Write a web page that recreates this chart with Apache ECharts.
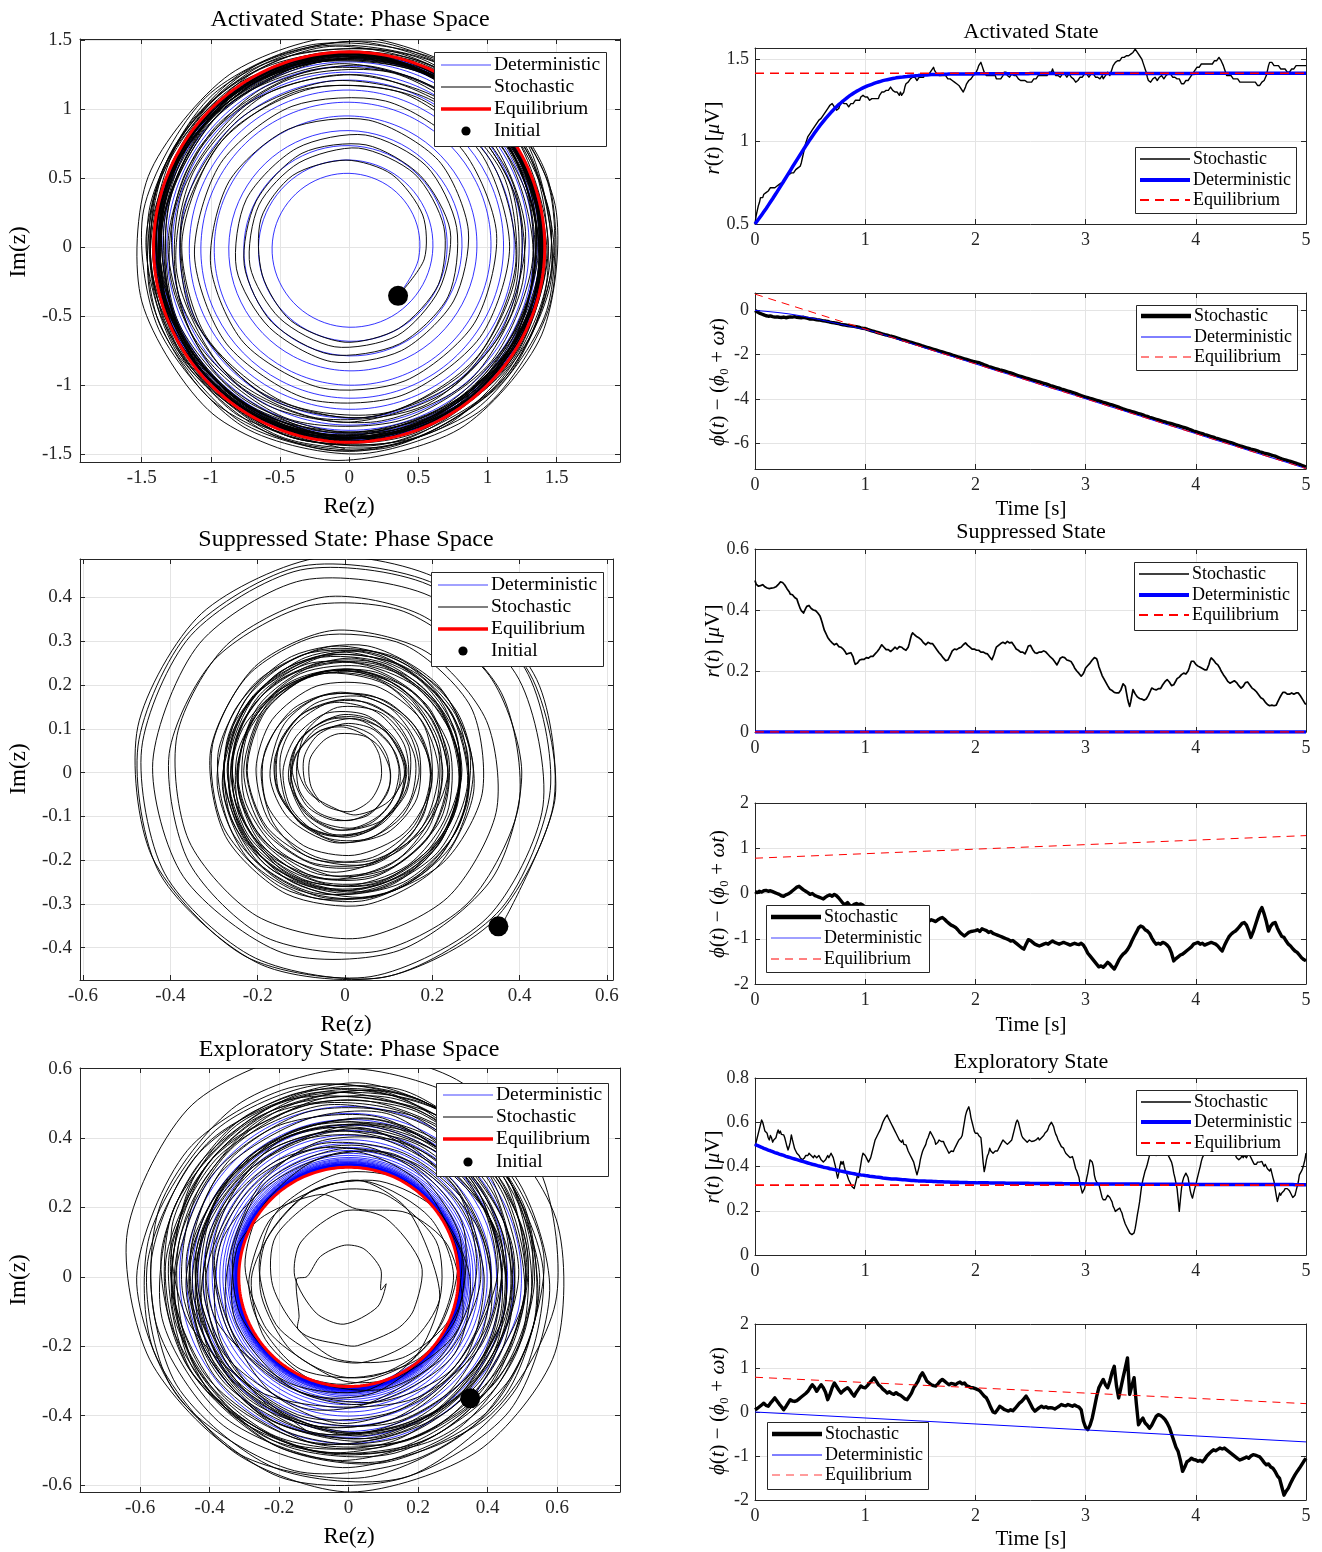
<!DOCTYPE html>
<html><head><meta charset="utf-8">
<script src="https://cdn.jsdelivr.net/npm/echarts@6/dist/echarts.min.js"></script>
<style>html,body{margin:0;padding:0;background:#fff}#chart{width:1322px;height:1552px}</style>
</head><body><div id="chart"></div>
<script>
// ================= DATA =================
const PHI0 = -Math.PI / 4;      // initial phase of the oscillator
const OMEGA_HZ = 10;            // carrier frequency (turns per second in phase space)
const R_STEP = 0.01;            // sampling step of the r(t) arrays [s]
const PH_STEP = 0.02;           // sampling step of stochastic phase deviation arrays [s]
const PHDET_STEP = 0.1;         // sampling step of activated deterministic phase [s]
const EDGE_T = [0, 5];          // time points for two-point (straight) lines

// ---- Activated state ----
const activatedRStoch = [
.50,.55,.58,.61,.63,.66,.67,.66,.68,.69, .69,.70,.70,.71,.72,.71,.72,.73,.72,.73,
.73,.72,.74,.73,.75,.76,.75,.77,.78,.79, .79,.80,.79,.81,.82,.81,.82,.83,.82,.84,
.84,.85,.87,.90,.93,.96,.99,1.01,1.03,1.04, 1.05,1.06,1.07,1.08,1.09,1.10,1.11,1.12,1.13,1.14,
1.14,1.15,1.16,1.17,1.18,1.19,1.20,1.21,1.22,1.22, 1.23,1.22,1.21,1.20,1.19,1.18,1.20,1.22,1.23,1.24,
1.24,1.23,1.22,1.23,1.22,1.21,1.22,1.23,1.24,1.23, 1.24,1.25,1.24,1.25,1.26,1.25,1.27,1.27,1.28,1.28,
1.27,1.26,1.27,1.26,1.25,1.25,1.26,1.25,1.26,1.27, 1.26,1.27,1.26,1.28,1.29,1.30,1.29,1.30,1.31,1.31,
1.32,1.31,1.32,1.33,1.32,1.31,1.31,1.30,1.29,1.30, 1.29,1.28,1.30,1.28,1.27,1.30,1.33,1.35,1.34,1.36,
1.37,1.38,1.37,1.39,1.38,1.39,1.38,1.37,1.38,1.39, 1.38,1.39,1.40,1.39,1.41,1.40,1.41,1.42,1.41,1.42,
1.43,1.44,1.45,1.43,1.42,1.41,1.42,1.40,1.41,1.40, 1.41,1.40,1.39,1.40,1.39,1.38,1.39,1.38,1.39,1.37,
1.38,1.36,1.37,1.35,1.36,1.34,1.33,1.32,1.31,1.30, 1.31,1.33,1.35,1.36,1.37,1.36,1.38,1.39,1.40,1.40,
1.41,1.42,1.44,1.46,1.47,1.48,1.46,1.44,1.42,1.41, 1.40,1.41,1.40,1.39,1.40,1.41,1.40,1.39,1.40,1.38,
1.39,1.38,1.37,1.38,1.37,1.40,1.42,1.43,1.42,1.40, 1.41,1.39,1.40,1.41,1.42,1.40,1.39,1.40,1.39,1.38,
1.38,1.37,1.38,1.37,1.38,1.37,1.38,1.36,1.37,1.36, 1.37,1.36,1.37,1.38,1.39,1.38,1.39,1.40,1.39,1.40,
1.39,1.40,1.41,1.40,1.39,1.40,1.41,1.42,1.43,1.42, 1.44,1.42,1.41,1.40,1.41,1.40,1.41,1.39,1.40,1.41,
1.40,1.41,1.40,1.39,1.40,1.41,1.40,1.39,1.40,1.38, 1.37,1.36,1.35,1.37,1.38,1.39,1.40,1.39,1.40,1.41,
1.40,1.41,1.40,1.39,1.40,1.41,1.40,1.41,1.40,1.39, 1.40,1.39,1.40,1.38,1.39,1.40,1.38,1.39,1.40,1.41,
1.42,1.41,1.40,1.42,1.44,1.46,1.47,1.48,1.47,1.49, 1.50,1.49,1.50,1.51,1.50,1.51,1.50,1.52,1.51,1.52,
1.52,1.53,1.52,1.54,1.55,1.56,1.55,1.54,1.53,1.52, 1.51,1.50,1.48,1.46,1.44,1.42,1.39,1.37,1.38,1.36,
1.37,1.38,1.37,1.39,1.38,1.37,1.38,1.39,1.38,1.40, 1.39,1.38,1.39,1.40,1.39,1.41,1.40,1.41,1.40,1.39,
1.40,1.39,1.40,1.38,1.39,1.38,1.37,1.35,1.34,1.35, 1.36,1.37,1.38,1.37,1.38,1.39,1.40,1.41,1.42,1.43,
1.44,1.45,1.46,1.45,1.46,1.47,1.46,1.47,1.48,1.47, 1.48,1.47,1.48,1.47,1.48,1.47,1.48,1.49,1.48,1.49,
1.50,1.51,1.50,1.49,1.48,1.46,1.44,1.42,1.40,1.39, 1.40,1.39,1.40,1.39,1.38,1.39,1.38,1.37,1.38,1.37,
1.36,1.37,1.36,1.37,1.36,1.35,1.36,1.37,1.36,1.35, 1.36,1.35,1.36,1.37,1.36,1.35,1.34,1.35,1.34,1.35,
1.36,1.35,1.37,1.38,1.40,1.43,1.46,1.48,1.49,1.48, 1.47,1.46,1.47,1.46,1.45,1.46,1.45,1.44,1.45,1.44,
1.43,1.44,1.43,1.42,1.43,1.42,1.43,1.44,1.45,1.44, 1.45,1.46,1.45,1.46,1.45,1.46,1.45,1.46,1.45,1.46,
1.46];
const activatedRDet = [
.500,.509,.518,.527,.536,.545,.555,.564,.574,.583, .593,.603,.613,.623,.633,.643,.653,.664,.674,.685,
.695,.706,.716,.727,.737,.748,.759,.770,.780,.791, .802,.813,.824,.835,.846,.857,.868,.878,.889,.899,
.910,.921,.931,.942,.952,.963,.973,.983,.993,1.003, 1.013,1.023,1.032,1.042,1.051,1.061,1.070,1.079,1.088,1.097,
1.106,1.114,1.122,1.131,1.139,1.147,1.154,1.162,1.169,1.177, 1.184,1.191,1.198,1.204,1.211,1.218,1.224,1.230,1.235,1.241,
1.247,1.252,1.257,1.263,1.268,1.273,1.278,1.282,1.287,1.291, 1.296,1.300,1.304,1.307,1.311,1.315,1.318,1.321,1.325,1.328,
1.331,1.334,1.337,1.339,1.342,1.345,1.347,1.350,1.352,1.355, 1.357,1.359,1.361,1.363,1.365,1.367,1.369,1.370,1.372,1.373,
1.375,1.376,1.378,1.379,1.381,1.382,1.383,1.384,1.386,1.387, 1.388,1.389,1.390,1.390,1.391,1.392,1.393,1.394,1.394,1.395,
1.396,1.397,1.397,1.398,1.398,1.399,1.399,1.400,1.400,1.401, 1.402,1.402,1.403,1.403,1.403,1.404,1.404,1.404,1.405,1.405,
1.406,1.406,1.406,1.406,1.407,1.407,1.407,1.407,1.407,1.408, 1.408,1.408,1.408,1.408,1.408,1.409,1.409,1.409,1.409,1.409,
1.410,1.410,1.410,1.410,1.410,1.410,1.410,1.410,1.410,1.410, 1.410,1.410,1.410,1.410,1.410,1.410,1.410,1.410,1.410,1.410,
1.411,1.411,1.411,1.411,1.411,1.411,1.411,1.411,1.411,1.411, 1.411,1.411,1.411,1.411,1.411,1.411,1.411,1.411,1.411,1.411,
1.411,1.411,1.411,1.411,1.411,1.411,1.411,1.411,1.411,1.411, 1.411,1.411,1.411,1.411,1.411,1.411,1.411,1.411,1.411,1.411,
1.411,1.411,1.411,1.411,1.411,1.411,1.411,1.411,1.411,1.411, 1.412,1.412,1.412,1.412,1.412,1.412,1.412,1.412,1.412,1.412,
1.412,1.412,1.412,1.412,1.412,1.412,1.412,1.412,1.412,1.412, 1.412,1.412,1.412,1.412,1.412,1.412,1.412,1.412,1.412,1.412,
1.412,1.412,1.412,1.412,1.412,1.412,1.412,1.412,1.412,1.412, 1.412,1.412,1.412,1.412,1.412,1.412,1.412,1.412,1.412,1.412,
1.413,1.413,1.413,1.413,1.413,1.413,1.413,1.413,1.413,1.413, 1.413,1.413,1.413,1.413,1.413,1.413,1.413,1.413,1.413,1.413,
1.413,1.413,1.413,1.413,1.413,1.413,1.413,1.413,1.413,1.413, 1.413,1.413,1.413,1.413,1.413,1.413,1.413,1.413,1.413,1.413,
1.413,1.413,1.413,1.413,1.413,1.413,1.413,1.413,1.413,1.413, 1.413,1.413,1.413,1.413,1.413,1.413,1.413,1.413,1.413,1.413,
1.413,1.413,1.413,1.413,1.413,1.413,1.413,1.413,1.413,1.413, 1.413,1.413,1.413,1.413,1.413,1.413,1.413,1.413,1.413,1.413,
1.413,1.413,1.413,1.413,1.413,1.413,1.413,1.413,1.413,1.413, 1.413,1.413,1.413,1.413,1.413,1.413,1.413,1.413,1.413,1.413,
1.414,1.414,1.414,1.414,1.414,1.414,1.414,1.414,1.414,1.414, 1.414,1.414,1.414,1.414,1.414,1.414,1.414,1.414,1.414,1.414,
1.414,1.414,1.414,1.414,1.414,1.414,1.414,1.414,1.414,1.414, 1.414,1.414,1.414,1.414,1.414,1.414,1.414,1.414,1.414,1.414,
1.414,1.414,1.414,1.414,1.414,1.414,1.414,1.414,1.414,1.414, 1.414,1.414,1.414,1.414,1.414,1.414,1.414,1.414,1.414,1.414,
1.414,1.414,1.414,1.414,1.414,1.414,1.414,1.414,1.414,1.414, 1.414,1.414,1.414,1.414,1.414,1.414,1.414,1.414,1.414,1.414,
1.414,1.414,1.414,1.414,1.414,1.414,1.414,1.414,1.414,1.414, 1.414,1.414,1.414,1.414,1.414,1.414,1.414,1.414,1.414,1.414,
1.414];
const activatedPhStoch = [
0,-.06,-.12,-.16,-.20,-.24,-.26,-.25,-.28,-.30, -.29,-.31,-.32,-.30,-.33,-.31,-.29,-.30,-.28,-.31,
-.32,-.33,-.31,-.34,-.36,-.39,-.38,-.40,-.42,-.43, -.45,-.47,-.48,-.50,-.53,-.55,-.56,-.58,-.60,-.63,
-.65,-.66,-.68,-.70,-.71,-.72,-.74,-.76,-.79,-.81, -.82,-.86,-.89,-.92,-.95,-.98,-1.01,-1.04,-1.07,-1.10,
-1.12,-1.15,-1.17,-1.20,-1.23,-1.26,-1.30,-1.33,-1.36,-1.39, -1.42,-1.45,-1.48,-1.51,-1.54,-1.57,-1.61,-1.64,-1.67,-1.70,
-1.73,-1.76,-1.79,-1.82,-1.85,-1.88,-1.91,-1.94,-1.97,-2.00, -2.04,-2.07,-2.10,-2.13,-2.16,-2.19,-2.22,-2.25,-2.28,-2.31,
-2.33,-2.35,-2.38,-2.42,-2.46,-2.50,-2.54,-2.57,-2.60,-2.63, -2.66,-2.69,-2.71,-2.74,-2.77,-2.80,-2.83,-2.86,-2.90,-2.94,
-2.97,-3.00,-3.03,-3.06,-3.09,-3.12,-3.15,-3.18,-3.21,-3.24, -3.27,-3.30,-3.33,-3.36,-3.40,-3.43,-3.46,-3.49,-3.52,-3.56,
-3.59,-3.62,-3.65,-3.68,-3.71,-3.74,-3.78,-3.82,-3.86,-3.89, -3.92,-3.95,-3.98,-4.01,-4.04,-4.07,-4.10,-4.13,-4.16,-4.19,
-4.22,-4.25,-4.28,-4.31,-4.34,-4.38,-4.42,-4.46,-4.49,-4.52, -4.55,-4.58,-4.61,-4.64,-4.67,-4.70,-4.73,-4.77,-4.80,-4.84,
-4.87,-4.90,-4.93,-4.96,-4.99,-5.02,-5.05,-5.08,-5.10,-5.13, -5.16,-5.19,-5.22,-5.25,-5.28,-5.31,-5.34,-5.38,-5.42,-5.46,
-5.49,-5.52,-5.55,-5.58,-5.62,-5.65,-5.68,-5.71,-5.74,-5.78, -5.81,-5.84,-5.87,-5.90,-5.93,-5.96,-5.99,-6.02,-6.06,-6.10,
-6.13,-6.16,-6.19,-6.22,-6.25,-6.28,-6.30,-6.33,-6.36,-6.40, -6.43,-6.46,-6.48,-6.51,-6.54,-6.57,-6.60,-6.64,-6.68,-6.72,
-6.75,-6.78,-6.81,-6.84,-6.87,-6.90,-6.94,-6.97,-7.01,-7.05, -7.09];
const activatedPhDet = [
0,-.04,-.09,-.15,-.23,-.33,-.43,-.54,-.65,-.76, -.86,-1.00,-1.15,-1.31,-1.47,-1.63,-1.79,-1.95,-2.10,-2.26,
-2.42,-2.58,-2.74,-2.89,-3.05,-3.21,-3.37,-3.53,-3.68,-3.84, -4.00,-4.16,-4.32,-4.47,-4.63,-4.79,-4.95,-5.11,-5.26,-5.42,
-5.58,-5.74,-5.90,-6.05,-6.21,-6.37,-6.53,-6.69,-6.84,-7.00, -7.16];
const activatedPhEq = [0.74, -7.16];   // at EDGE_T
const activatedREq = 1.414;

// ---- Suppressed state ----
const suppressedRStoch = [
.497,.485,.480,.478,.482,.480,.478,.483,.479,.476, .474,.472,.476,.470,.474,.472,.469,.473,.471,.476,
.480,.483,.488,.492,.495,.490,.486,.482,.478,.470, .465,.460,.452,.448,.450,.445,.441,.440,.436,.425,
.415,.405,.398,.392,.390,.395,.405,.412,.418,.415, .410,.405,.402,.400,.404,.398,.394,.390,.385,.380,
.370,.358,.345,.333,.326,.318,.310,.305,.300,.296, .292,.288,.286,.284,.290,.285,.280,.281,.278,.276,
.272,.268,.262,.255,.252,.258,.262,.260,.256,.246, .232,.222,.220,.226,.232,.236,.240,.238,.234,.238,
.242,.244,.240,.242,.246,.248,.245,.248,.252,.256, .260,.264,.268,.274,.280,.286,.282,.278,.274,.270,
.268,.270,.266,.264,.266,.270,.274,.278,.276,.272, .276,.280,.282,.278,.274,.272,.270,.268,.272,.278,
.290,.305,.318,.325,.322,.318,.314,.312,.310,.308, .306,.302,.298,.292,.288,.286,.290,.294,.292,.290,
.292,.290,.286,.280,.276,.270,.264,.260,.256,.252, .248,.242,.238,.234,.232,.236,.242,.250,.258,.266,
.270,.272,.268,.270,.272,.275,.274,.278,.282,.286, .290,.292,.288,.284,.280,.278,.274,.272,.270,.272,
.270,.268,.266,.268,.264,.262,.260,.262,.260,.258, .260,.256,.252,.246,.240,.237,.242,.255,.268,.278,
.280,.284,.288,.290,.292,.294,.292,.290,.294,.297, .295,.292,.296,.294,.290,.284,.278,.272,.270,.268,
.264,.262,.260,.262,.258,.256,.262,.272,.282,.288, .284,.278,.270,.264,.260,.262,.258,.260,.262,.264,
.262,.264,.266,.264,.262,.258,.254,.250,.246,.243, .240,.236,.230,.224,.220,.226,.234,.242,.248,.246,
.248,.244,.240,.236,.232,.234,.236,.230,.224,.218, .210,.204,.200,.196,.192,.186,.183,.186,.192,.200,
.210,.215,.218,.222,.226,.232,.236,.240,.244,.248, .240,.230,.215,.205,.195,.185,.178,.172,.165,.160,
.152,.146,.140,.138,.136,.132,.130,.128,.128,.130, .128,.132,.138,.148,.158,.160,.150,.130,.110,.095,
.084,.100,.120,.139,.132,.125,.120,.115,.112,.110, .110,.108,.106,.104,.106,.108,.112,.120,.128,.136,
.144,.142,.140,.142,.138,.140,.142,.139,.142,.148, .155,.160,.165,.170,.172,.168,.164,.158,.152,.150,
.155,.160,.168,.175,.177,.180,.184,.188,.190,.193, .192,.190,.194,.200,.210,.222,.232,.237,.232,.228,
.222,.220,.216,.214,.212,.210,.208,.206,.204,.206, .204,.210,.222,.236,.243,.240,.236,.232,.226,.222,
.220,.215,.208,.200,.194,.188,.183,.178,.172,.166, .162,.160,.162,.164,.166,.168,.166,.162,.158,.152,
.148,.144,.146,.150,.156,.162,.166,.164,.160,.154, .148,.144,.140,.139,.136,.132,.128,.122,.116,.112,
.111,.108,.104,.098,.094,.090,.088,.086,.084,.088, .090,.086,.084,.088,.096,.104,.111,.118,.124,.130,
.133,.130,.126,.124,.122,.124,.126,.128,.126,.124, .126,.128,.126,.128,.124,.118,.112,.106,.100,.094,
.090];
const suppressedRDet = [0, 0];         // at EDGE_T
const suppressedPhStoch = [
.04,.02,.05,.03,.06,.07,.05,.06,.04,.02, .00,-.02,-.05,-.06,-.03,-.01,.02,.06,.10,.14,
.16,.12,.08,.05,.02,-.02,.00,-.04,-.06,-.08, -.10,-.12,-.08,-.05,-.03,-.06,-.02,-.05,-.10,-.16,
-.22,-.24,-.20,-.26,-.28,-.24,-.22,-.25,-.23,-.26, -.30,-.33,-.36,-.38,-.40,-.42,-.45,-.44,-.46,-.48,
-.50,-.48,-.52,-.54,-.52,-.55,-.56,-.58,-.56,-.60, -.58,-.62,-.60,-.63,-.61,-.64,-.62,-.60,-.63,-.61,
-.58,-.60,-.62,-.58,-.55,-.53,-.57,-.62,-.66,-.70, -.72,-.75,-.80,-.86,-.90,-.94,-.90,-.86,-.84,-.83,
-.82,-.80,-.84,-.78,-.80,-.82,-.86,-.84,-.88,-.90, -.92,-.94,-.96,-.98,-1.00,-1.02,-1.05,-1.04,-1.08,-1.12,
-1.16,-1.20,-1.23,-1.12,-1.02,-1.04,-1.08,-1.12,-1.14,-1.16, -1.14,-1.12,-1.10,-1.12,-1.08,-1.05,-1.08,-1.10,-1.12,-1.10,
-1.08,-1.10,-1.12,-1.14,-1.12,-1.10,-1.12,-1.13,-1.10,-1.14, -1.22,-1.32,-1.38,-1.44,-1.50,-1.56,-1.62,-1.60,-1.63,-1.58,
-1.52,-1.56,-1.62,-1.67,-1.58,-1.48,-1.40,-1.34,-1.30,-1.24, -1.16,-1.05,-.95,-.86,-.76,-.72,-.74,-.80,-.83,-.88,
-.98,-1.06,-1.12,-1.10,-1.12,-1.08,-1.10,-1.14,-1.20,-1.32, -1.49,-1.44,-1.40,-1.36,-1.34,-1.30,-1.26,-1.22,-1.18,-1.12,
-1.10,-1.08,-1.12,-1.10,-1.14,-1.12,-1.10,-1.08,-1.10,-1.12, -1.16,-1.22,-1.27,-1.15,-1.05,-.96,-.90,-.86,-.83,-.78,
-.72,-.66,-.64,-.70,-.82,-.97,-.85,-.70,-.55,-.40, -.31,-.45,-.62,-.83,-.72,-.66,-.64,-.76,-.86,-.95,
-.97,-1.05,-1.12,-1.16,-1.22,-1.27,-1.30,-1.36,-1.42,-1.46, -1.49];
const suppressedPhDet = [];            // not drawn in the reference
const suppressedPhEq = [0.78, 1.28];   // at EDGE_T
const suppressedREq = 0;

// ---- Exploratory state ----
const exploratoryRStoch = [
.495,.51,.53,.55,.57,.59,.61,.60,.58,.56, .565,.55,.53,.52,.54,.53,.51,.52,.513,.53,
.55,.565,.55,.56,.545,.54,.543,.53,.51,.49, .475,.49,.51,.543,.52,.50,.48,.47,.46,.453,
.45,.44,.445,.43,.43,.44,.45,.455,.45,.46, .46,.45,.455,.44,.45,.445,.44,.445,.45,.44,
.43,.435,.42,.423,.43,.44,.45,.44,.45,.46, .46,.44,.42,.40,.37,.347,.37,.40,.423,.41,
.423,.40,.38,.37,.362,.34,.33,.32,.31,.302, .30,.32,.34,.362,.35,.38,.41,.44,.46,.468,
.45,.44,.43,.42,.423,.44,.46,.48,.50,.52, .528,.54,.55,.56,.57,.585,.60,.603,.62,.625,
.633,.62,.61,.60,.59,.58,.57,.56,.55,.54, .53,.52,.513,.51,.52,.50,.505,.498,.49,.47,
.46,.45,.44,.438,.42,.40,.38,.362,.37,.40, .43,.45,.468,.48,.49,.50,.52,.53,.545,.558,
.55,.54,.53,.52,.50,.498,.51,.52,.515,.513, .51,.513,.50,.49,.48,.47,.46,.468,.47,.465,
.468,.48,.49,.50,.51,.52,.528,.53,.54,.57, .60,.63,.648,.66,.67,.65,.62,.60,.58,.56,
.55,.545,.55,.54,.543,.53,.48,.42,.377,.40, .43,.45,.46,.483,.47,.475,.46,.465,.47,.468,
.47,.48,.49,.50,.51,.52,.515,.51,.505,.50, .505,.51,.505,.52,.54,.56,.58,.60,.61,.60,
.58,.56,.54,.53,.528,.52,.515,.51,.513,.52, .515,.513,.52,.515,.51,.52,.528,.53,.52,.525,
.53,.535,.54,.55,.55,.56,.57,.585,.59,.60, .603,.58,.56,.545,.535,.52,.51,.50,.49,.485,
.483,.47,.46,.455,.45,.445,.44,.445,.445,.43, .41,.39,.38,.377,.35,.32,.30,.28,.272,.30,
.32,.347,.37,.40,.43,.438,.42,.40,.36,.34, .33,.332,.32,.30,.28,.26,.25,.242,.25,.26,
.27,.272,.26,.25,.24,.22,.21,.197,.20,.205, .21,.212,.20,.19,.17,.155,.14,.137,.12,.11,
.10,.095,.092,.092,.10,.12,.15,.182,.21,.24, .28,.317,.34,.36,.38,.393,.41,.43,.45,.46,
.468,.47,.46,.455,.45,.45,.46,.465,.47,.475, .48,.475,.475,.47,.46,.45,.44,.43,.42,.40,
.37,.35,.347,.30,.25,.197,.25,.30,.332,.35, .36,.37,.377,.35,.32,.29,.27,.257,.28,.30,
.317,.34,.36,.38,.40,.423,.44,.45,.468,.48, .49,.50,.51,.52,.53,.54,.53,.54,.55,.54,
.53,.52,.53,.54,.55,.56,.55,.54,.53,.52, .51,.50,.49,.48,.47,.46,.45,.44,.435,.43,
.43,.44,.45,.44,.45,.45,.44,.45,.46,.45, .44,.43,.42,.41,.408,.41,.42,.415,.42,.423,
.423,.41,.40,.41,.40,.39,.392,.38,.39,.37, .35,.332,.30,.27,.242,.26,.28,.27,.28,.287,
.29,.30,.295,.30,.302,.29,.28,.27,.26,.257, .27,.29,.31,.33,.362,.37,.38,.392,.41,.43,
.46];
const exploratoryRDet = [
.500,.498,.495,.493,.491,.489,.487,.484,.482,.480, .478,.476,.474,.472,.471,.469,.467,.465,.463,.462,
.460,.458,.456,.455,.453,.451,.450,.448,.446,.445, .443,.441,.440,.438,.437,.435,.434,.432,.431,.429,
.428,.426,.425,.423,.422,.420,.419,.417,.416,.414, .413,.412,.410,.409,.408,.406,.405,.404,.402,.401,
.400,.399,.397,.396,.395,.394,.393,.391,.390,.389, .388,.387,.386,.385,.384,.382,.381,.380,.379,.378,
.377,.376,.375,.374,.373,.372,.371,.370,.369,.368, .367,.366,.365,.365,.364,.363,.362,.361,.361,.360,
.359,.358,.358,.357,.356,.356,.355,.354,.354,.353, .352,.351,.351,.350,.350,.349,.348,.348,.347,.347,
.346,.346,.345,.345,.344,.344,.344,.343,.343,.342, .342,.342,.341,.341,.340,.340,.340,.339,.339,.338,
.338,.338,.337,.337,.337,.336,.336,.336,.335,.335, .335,.335,.334,.334,.334,.334,.333,.333,.333,.333,
.333,.332,.332,.332,.332,.332,.331,.331,.331,.331, .331,.331,.330,.330,.330,.330,.330,.330,.329,.329,
.329,.329,.329,.329,.329,.328,.328,.328,.328,.328, .328,.328,.328,.327,.327,.327,.327,.327,.327,.327,
.327,.327,.326,.326,.326,.326,.326,.326,.326,.326, .326,.326,.326,.325,.325,.325,.325,.325,.325,.325,
.325,.325,.325,.325,.325,.325,.325,.324,.324,.324, .324,.324,.324,.324,.324,.324,.324,.324,.324,.324,
.324,.324,.324,.324,.324,.324,.324,.324,.324,.324, .323,.323,.323,.323,.323,.323,.323,.323,.323,.323,
.323,.323,.323,.323,.323,.323,.323,.323,.323,.323, .323,.323,.323,.323,.323,.323,.323,.323,.323,.323,
.322,.322,.322,.322,.322,.322,.322,.322,.322,.322, .322,.322,.322,.322,.322,.322,.322,.322,.322,.322,
.321,.321,.321,.321,.321,.321,.321,.321,.321,.321, .321,.321,.321,.321,.321,.321,.321,.321,.321,.321,
.321,.321,.321,.321,.321,.321,.321,.321,.321,.321, .321,.321,.321,.321,.321,.321,.321,.321,.321,.321,
.321,.321,.321,.321,.321,.321,.321,.321,.321,.321, .320,.320,.320,.320,.320,.320,.320,.320,.320,.320,
.320,.320,.320,.320,.320,.320,.320,.320,.320,.320, .320,.320,.320,.320,.320,.320,.320,.320,.320,.320,
.320,.320,.320,.320,.320,.320,.320,.320,.320,.320, .320,.320,.320,.320,.320,.320,.320,.320,.320,.320,
.319,.319,.319,.319,.319,.319,.319,.319,.319,.319, .319,.319,.319,.319,.319,.319,.319,.319,.319,.319,
.319,.319,.319,.319,.319,.319,.319,.319,.319,.319, .319,.319,.319,.319,.319,.319,.319,.319,.319,.319,
.319,.319,.319,.319,.319,.319,.319,.319,.319,.319, .319,.319,.319,.319,.319,.319,.319,.319,.319,.319,
.319,.319,.319,.319,.319,.319,.319,.319,.319,.319, .319,.319,.319,.319,.319,.319,.319,.319,.319,.319,
.319,.319,.319,.319,.319,.319,.319,.319,.319,.319, .318,.318,.318,.318,.318,.318,.318,.318,.318,.318,
.318];
const exploratoryPhStoch = [
.05,.08,.12,.16,.20,.15,.13,.20,.26,.32, .25,.18,.12,.05,.12,.20,.28,.25,.24,.26,
.30,.34,.38,.42,.47,.55,.62,.56,.47,.55, .62,.55,.45,.28,.40,.55,.66,.58,.50,.43,
.48,.52,.55,.50,.42,.36,.45,.52,.59,.56, .55,.60,.66,.72,.78,.70,.62,.58,.52,.48,
.43,.46,.42,.40,.44,.40,.38,.34,.30,.28, .35,.43,.55,.62,.70,.82,.89,.80,.70,.66,
.62,.60,.59,.64,.70,.74,.70,.66,.62,.65, .64,.62,.66,.68,.64,.66,.60,.58,.55,.55,
.53,.51,.48,.42,.36,.32,.22,.10,.00,-.02, .05,.13,.10,.06,.04,.02,.05,.03,.08,.14,
.20,.24,.30,.36,.28,.18,.08,.02,.06,.10, .13,.10,.12,.09,.10,.09,.07,.10,.13,.17,
.15,.14,.17,.15,.13,.16,.13,.11,.05,-.21, -.35,-.40,-.30,-.14,.10,.35,.55,.65,.74,.62,
.55,.70,.90,1.04,.60,.32,.55,.78,1.00,1.23, .40,.60,.78,.20,-.29,-.20,-.14,-.25,-.30,-.37,
-.30,-.20,-.10,-.06,-.08,-.12,-.17,-.25,-.35,-.50, -.65,-.80,-.90,-1.10,-1.35,-1.25,-1.13,-1.10,-1.05,-1.08,
-1.09,-1.12,-1.10,-1.13,-1.08,-1.00,-.95,-.90,-.86,-.88, -.85,-.82,-.84,-.82,-.86,-.90,-.94,-.98,-1.02,-1.06,
-1.09,-1.07,-1.05,-1.02,-1.05,-1.00,-.97,-.98,-1.00,-1.02, -1.08,-1.15,-1.20,-1.18,-1.25,-1.28,-1.35,-1.45,-1.51,-1.70,
-1.89,-1.80,-1.73,-1.62,-1.52,-1.43,-1.35,-1.28,-1.20,-1.12, -1.05];
const exploratoryPhDet = [0, -0.68];    // at EDGE_T
const exploratoryPhEq = [0.79, 0.19];   // at EDGE_T
const exploratoryREq = 0.316;

// Axis ranges and tick settings
const TIME_RANGE = [0, 5];
const TIME_TICK = 1;

// ================= BUILD =================
const FONT = 'Liberation Serif';
const AXC = '#262626';
const GRIDC = '#e4e4e4';
const BLUE = '#0000ff', RED = '#ff0000', BLACK = '#000000';

function series2(times, values) { return values.map((v, i) => [times[i], v]); }
function seriesStep(values, step) { return values.map((v, i) => [+(i * step).toFixed(4), v]); }
function toPlane(rVals, rStep, phVals, phStep) {
  return rVals.map((r, i) => {
    const t = i * rStep;
    const d = phVals ? phVals[Math.min(phVals.length - 1, Math.floor(t / phStep + 1e-9))] : 0;
    const th = PHI0 + 2 * Math.PI * OMEGA_HZ * t + d;
    return [r * Math.cos(th), r * Math.sin(th)];
  });
}
function circle(R) {
  const pts = [];
  for (let k = 0; k <= 240; k++) { const a = 2 * Math.PI * k / 240; pts.push([R * Math.cos(a), R * Math.sin(a)]); }
  return pts;
}

// grid boxes (pixels) and axis settings
const G = [
  {box:[80,39,540,423],   x:[-1.946,1.958], xs:8, y:[-1.557,1.507], ys:6, fs:19, hx:[1,1], hy:[1,1]},
  {box:[80,559,533,421],  x:[-0.607,0.614], xs:6, y:[-0.474,0.488], ys:10, fs:19, hx:[1,1], hy:[1,1]},
  {box:[80,1068,540,424], x:[-0.773,0.781], xs:8, y:[-0.620,0.602], ys:8, fs:19, hx:[1,1], hy:[1,1]},
  {box:[755,48,551,176],  x:TIME_RANGE, xi:TIME_TICK, y:[0.5,1.567], ys:2, fs:18, hx:[0,0], hy:[0,1]},
  {box:[755,293,551,176], x:TIME_RANGE, xi:TIME_TICK, y:[-7.18,0.79], ys:4, fs:18, hx:[0,0], hy:[1,1]},
  {box:[755,549,551,183], x:TIME_RANGE, xi:TIME_TICK, y:[0,0.6], yi:0.2, fs:18, hx:[0,0], hy:[0,0]},
  {box:[755,803,551,181], x:TIME_RANGE, xi:TIME_TICK, y:[-2,2], yi:1, fs:18, hx:[0,0], hy:[0,0]},
  {box:[755,1078,551,177],x:TIME_RANGE, xi:TIME_TICK, y:[0,0.8], yi:0.2, fs:18, hx:[0,0], hy:[0,0]},
  {box:[755,1324,551,176],x:TIME_RANGE, xi:TIME_TICK, y:[-2,2], yi:1, fs:18, hx:[0,0], hy:[0,0]},
];

const grids = [], xAxes = [], yAxes = [];
function axisCfg(gi, range, split, interval, fs, hide, showLabel, showSplit, margin) {
  return {
    type:'value', gridIndex:gi, min:range[0], max:range[1], splitNumber:split, interval:interval,
    axisLine:{show:true, onZero:false, lineStyle:{color:AXC, width:1}},
    axisTick:{show:true, inside:true, length:5, lineStyle:{color:AXC, width:1}},
    minorTick:{show:false},
    splitLine:{show:showSplit, lineStyle:{color:GRIDC, width:1}},
    axisLabel:{show:showLabel, color:AXC, fontFamily:FONT, fontSize:fs, margin:margin,
      showMinLabel:!hide[0], showMaxLabel:!hide[1], hideOverlap:false},
    animation:false
  };
}
G.forEach((g, gi) => {
  grids.push({left:g.box[0], top:g.box[1], width:g.box[2], height:g.box[3], containLabel:false, outerBoundsMode:'none', show:false});
  const xm = 7, ym = g.fs === 18 ? 6 : 8;
  xAxes.push(Object.assign(axisCfg(gi, g.x, g.xs, g.xi, g.fs, g.hx, true, true, xm), {position:'bottom'}));
  xAxes.push(Object.assign(axisCfg(gi, g.x, g.xs, g.xi, g.fs, g.hx, false, false, xm), {position:'top'}));
  yAxes.push(Object.assign(axisCfg(gi, g.y, g.ys, g.yi, g.fs, g.hy, true, true, ym), {position:'left'}));
  yAxes.push(Object.assign(axisCfg(gi, g.y, g.ys, g.yi, g.fs, g.hy, false, false, ym), {position:'right'}));
});

function line(gi, data, color, width, dash, z) {
  return {type:'line', xAxisIndex:gi * 2, yAxisIndex:gi * 2, data:data, showSymbol:false, symbol:'none',
    smooth:false, lineStyle:{color:color, width:width, type:dash || 'solid', cap:'butt', join:'round'},
    z:z || 2, silent:true, animation:false, clip:true, sampling:false};
}
// smooth curve through data points, positioned with the axis scales (api.coord)
function curve(gi, pts, color, width, z, smooth) {
  return {type:'custom', coordinateSystem:'cartesian2d', xAxisIndex:gi * 2, yAxisIndex:gi * 2,
    data:[pts[0]], clip:true, z:z, silent:true, animation:false,
    renderItem:function (params, api) {
      const cs = params.coordSys;
      return {type:'polyline', silent:true,
        shape:{points:pts.map(p => api.coord(p)), smooth:smooth},
        style:{stroke:color, lineWidth:width, fill:null, lineJoin:'round'},
        clipPath:{type:'rect', shape:{x:cs.x, y:cs.y, width:cs.width, height:cs.height}}};
    }};
}
function dot(gi, pt) {
  return {type:'scatter', xAxisIndex:gi * 2, yAxisIndex:gi * 2, data:[pt], symbol:'circle', symbolSize:20,
    itemStyle:{color:BLACK, opacity:1}, z:6, silent:true, animation:false};
}

const states = [
  {rS:activatedRStoch, rD:activatedRDet, rDstep:R_STEP, rEq:activatedREq, pS:activatedPhStoch,
   pD:seriesStep(activatedPhDet, PHDET_STEP), pEq:activatedPhEq},
  {rS:suppressedRStoch, rD:suppressedRDet, rDstep:EDGE_T[1], rEq:suppressedREq, pS:suppressedPhStoch,
   pD:series2(EDGE_T, suppressedPhDet), pEq:suppressedPhEq},
  {rS:exploratoryRStoch, rD:exploratoryRDet, rDstep:R_STEP, rEq:exploratoryREq, pS:exploratoryPhStoch,
   pD:series2(EDGE_T, exploratoryPhDet), pEq:exploratoryPhEq},
];
const series = [];
// phase portraits
states.forEach((s, k) => {
  const gi = k;
  series.push(curve(gi, toPlane(s.rD, s.rDstep, null, 1), BLUE, 0.8, 2, 0.36));
  series.push(curve(gi, toPlane(s.rS, R_STEP, s.pS, PH_STEP), BLACK, 0.95, 3, 0.28));
  if (s.rEq > 0) series.push(curve(gi, circle(s.rEq), RED, 3, 4, 0));
  series.push(dot(gi, [s.rS[0] * Math.cos(PHI0), s.rS[0] * Math.sin(PHI0)]));
});
// time series
const stochRW = [1.4, 1.7, 1.4];
const detPhC = [BLUE, '#8080ff', BLUE];
states.forEach((s, k) => {
  const gr = 3 + k * 2, gp = 4 + k * 2;
  series.push(line(gr, seriesStep(s.rS, R_STEP), BLACK, stochRW[k], 'solid', 2));
  series.push(line(gr, s.rD.length === 2 ? series2(EDGE_T, s.rD) : seriesStep(s.rD, R_STEP), BLUE, 3.5, 'solid', 3));
  series.push(line(gr, series2(EDGE_T, [s.rEq, s.rEq]), RED, 1.6, [9, 6], 4));
  series.push(line(gp, seriesStep(s.pS, PH_STEP), BLACK, 3.4, 'solid', 2));
  series.push(line(gp, s.pD, detPhC[k], 1, 'solid', 3));
  series.push(line(gp, series2(EDGE_T, s.pEq), RED, 1, [8, 6], 4));
});

// ---------- text & legends ----------
const graphics = [];
function txt(x, y, text, size, rot, opts) {
  graphics.push({type:'text', x:x, y:y, rotation:rot || 0, z:120, silent:true,
    style:Object.assign({text:text, fontFamily:FONT, fontSize:size, fill:'#000', align:'center', verticalAlign:'middle'}, opts || {})});
}
const TL = 24, TR = 22;
txt(350, 20, 'Activated State: Phase Space', TL);
txt(346, 540, 'Suppressed State: Phase Space', TL);
txt(349, 1050, 'Exploratory State: Phase Space', TL);
txt(1031, 32, 'Activated State', TR);
txt(1031, 532, 'Suppressed State', TR);
txt(1031, 1062, 'Exploratory State', TR);
[[349,507],[346,1025],[349,1537]].forEach(p => txt(p[0], p[1], 'Re(z)', 23));
[[19,252],[19,769],[19,1280]].forEach(p => txt(p[0], p[1], 'Im(z)', 23, Math.PI / 2));
[509, 1025, 1539].forEach(y => txt(1031, y, 'Time [s]', 21));
const richI = {i:{fontFamily:FONT, fontSize:21, fontStyle:'italic'}, n:{fontFamily:FONT, fontSize:21}};
[138, 641, 1167].forEach(y => txt(713, y, '{i|r}{n|(}{i|t}{n|) [}{i|μ}{n|V]}', 21, Math.PI / 2, {rich:richI}));
[382, 894, 1411].forEach(y => txt(718, y, '{i|ϕ}{n|(}{i|t}{n|) − (}{i|ϕ}{n|₀ + }{i|ωt}{n|)}', 21, Math.PI / 2, {rich:richI}));

function legend(x, y, w, h, rows, items, o) {
  graphics.push({type:'rect', z:110, silent:true, shape:{x:x + 0.5, y:y + 0.5, width:w, height:h},
    style:{fill:'#ffffff', stroke:AXC, lineWidth:1}});
  items.forEach((it, k) => {
    const cy = rows[k];
    if (it.dot) {
      graphics.push({type:'circle', z:111, silent:true, shape:{cx:x + (o.l0 + o.l1) / 2, cy:cy, r:4.6}, style:{fill:BLACK}});
    } else {
      graphics.push({type:'line', z:111, silent:true, shape:{x1:x + o.l0, y1:cy, x2:x + o.l1, y2:cy},
        style:{stroke:it.c, lineWidth:it.w, lineDash:it.d || null}});
    }
    graphics.push({type:'text', z:112, silent:true, x:x + o.tx, y:cy,
      style:{text:it.t, fontFamily:FONT, fontSize:o.fs, fill:'#000', align:'left', verticalAlign:'middle'}});
  });
}
const portraitItems = [
  {t:'Deterministic', c:'#4545ff', w:1.2}, {t:'Stochastic', c:BLACK, w:1.2},
  {t:'Equilibrium', c:RED, w:3.5}, {t:'Initial', dot:true}];
const PL = {l0:7, l1:57, tx:60, fs:19.5};
legend(434, 52, 172, 94, [65, 87, 109, 131], portraitItems, PL);
legend(431, 572, 172, 94, [585, 607, 629, 651], portraitItems, PL);
legend(436, 1083, 172, 93, [1095, 1117, 1139, 1162], portraitItems, PL);
const RL = {l0:5, l1:55, tx:58, fs:18};
const rItems = [{t:'Stochastic', c:BLACK, w:1.6}, {t:'Deterministic', c:BLUE, w:4}, {t:'Equilibrium', c:RED, w:2, d:[9, 6]}];
legend(1135, 147, 161, 66, [159, 180, 200], rItems, RL);
legend(1134, 562, 163, 68, [574, 595, 615], rItems, RL);
legend(1136, 1090, 161, 65, [1102, 1122, 1143], rItems, RL);
legend(1136, 305, 161, 65, [316, 337, 357],
  [{t:'Stochastic', c:BLACK, w:4.5}, {t:'Deterministic', c:BLUE, w:1}, {t:'Equilibrium', c:RED, w:1, d:[8, 6]}], RL);
legend(766, 905, 163, 67, [917, 938, 959],
  [{t:'Stochastic', c:BLACK, w:4.5}, {t:'Deterministic', c:'#8080ff', w:1.5}, {t:'Equilibrium', c:RED, w:1, d:[8, 6]}], RL);
legend(767, 1422, 161, 67, [1434, 1455, 1475],
  [{t:'Stochastic', c:BLACK, w:4.5}, {t:'Deterministic', c:BLUE, w:1}, {t:'Equilibrium', c:'#ff3a3a', w:1.2, d:[8, 6]}], RL);

const chart = echarts.init(document.getElementById('chart'), null, {renderer:'canvas', width:1322, height:1552});
chart.setOption({
  backgroundColor:'#ffffff',
  animation:false,
  textStyle:{fontFamily:FONT},
  grid:grids, xAxis:xAxes, yAxis:yAxes, series:series,
  graphic:{elements:graphics}
});
</script></body></html>
